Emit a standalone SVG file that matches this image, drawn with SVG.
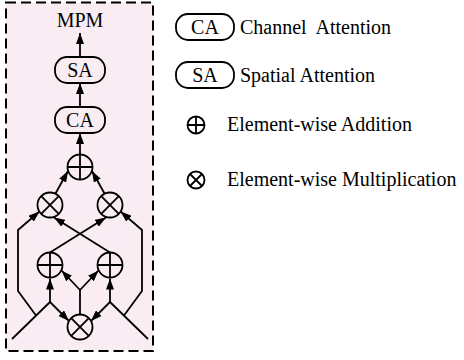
<svg xmlns="http://www.w3.org/2000/svg" width="464" height="360" viewBox="0 0 464 360">
<style>
.ln{fill:none;stroke:#000;stroke-width:1.8;stroke-linejoin:miter}
.ar{marker-end:url(#ah)}
.sym{fill:none;stroke:#000;stroke-width:1.8}
.box{fill:none;stroke:#000;stroke-width:1.8}
text{font-family:"Liberation Serif","Times New Roman",serif;font-size:20px;fill:#000}
.c{text-anchor:middle}
</style>
<defs>
<marker id="ah" markerUnits="userSpaceOnUse" markerWidth="11" markerHeight="8" refX="11" refY="4" orient="auto">
<path d="M0,0 L11,4 L0,8 z" fill="#000"/>
</marker>
</defs>
<g id="frame">
<rect x="6" y="2.5" width="147" height="348.5" fill="#f9edf3" stroke="#000" stroke-width="2" stroke-dasharray="10 5"/>
</g>
<g id="connectors">
<path class="ln" d="M12,339 L50,302 M148,339 L110,302"/>
<path class="ln ar" d="M50,302 L50,278.5"/>
<path class="ln ar" d="M110,302 L110,278.5"/>
<path class="ln ar" d="M50,302 L69,321"/>
<path class="ln ar" d="M110,302 L91,321"/>
<path class="ln ar" d="M36,315.5 L18,291 L18,230 L39.5,211.5"/>
<path class="ln ar" d="M124,315.5 L142,291 L142,230 L120.5,211.5"/>
<path class="ln" d="M80,314.5 L80,290"/>
<path class="ln ar" d="M80,290 L61.5,270.5"/>
<path class="ln ar" d="M80,290 L98.5,270.5"/>
<path class="ln ar" d="M50,252.5 L106,217.5"/>
<path class="ln ar" d="M110,252.5 L54,217.5"/>
<path class="ln ar" d="M55.5,193.5 L68,171"/>
<path class="ln ar" d="M104.5,193.5 L92,171"/>
<path class="ln ar" d="M80,154.5 L80,133"/>
<path class="ln ar" d="M80,107 L80,83"/>
<path class="ln ar" d="M80,57 L80,33"/>
</g>
<g id="mpm"><text class="c" x="80" y="27">MPM</text></g>
<g id="sa"><rect class="box" x="55" y="57" width="50" height="26" rx="12" ry="12"/><text class="c" x="80" y="76.5">SA</text></g>
<g id="ca"><rect class="box" x="55" y="107" width="50" height="26" rx="12" ry="12"/><text class="c" x="80" y="126.5">CA</text></g>
<g id="add-top"><circle class="sym" cx="80" cy="167" r="12.5"/><path class="sym" d="M67.5,167 H92.5 M80,154.5 V179.5"/></g>
<g id="mul-left"><circle class="sym" cx="50" cy="205" r="12.5"/><path class="sym" d="M41.2,196.2 L58.8,213.8 M58.8,196.2 L41.2,213.8"/></g>
<g id="mul-right"><circle class="sym" cx="110" cy="205" r="12.5"/><path class="sym" d="M101.2,196.2 L118.8,213.8 M118.8,196.2 L101.2,213.8"/></g>
<g id="add-left"><circle class="sym" cx="50" cy="265" r="12.5"/><path class="sym" d="M37.5,265 H62.5 M50,252.5 V277.5"/></g>
<g id="add-right"><circle class="sym" cx="110" cy="265" r="12.5"/><path class="sym" d="M97.5,265 H122.5 M110,252.5 V277.5"/></g>
<g id="mul-bottom"><circle class="sym" cx="80" cy="327" r="12.5"/><path class="sym" d="M71.2,318.2 L88.8,335.8 M88.8,318.2 L71.2,335.8"/></g>
<g id="legend-ca"><rect class="box" x="176" y="14" width="58" height="26" rx="12" ry="12"/><text class="c" x="205" y="33.5">CA</text><text x="240" y="33.5" xml:space="preserve">Channel  Attention</text></g>
<g id="legend-sa"><rect class="box" x="176" y="62" width="58" height="26" rx="12" ry="12"/><text class="c" x="205" y="81.5">SA</text><text x="240" y="81.5">Spatial Attention</text></g>
<g id="legend-add"><circle class="sym" cx="196" cy="125" r="8.5"/><path class="sym" d="M187.5,125 H204.5 M196,116.5 V133.5"/><text x="227" y="130.5">Element-wise Addition</text></g>
<g id="legend-mul"><circle class="sym" cx="196" cy="180" r="8.5"/><path class="sym" d="M190,174 L202,186 M202,174 L190,186"/><text x="227" y="185.5">Element-wise Multiplication</text></g>
</svg>
